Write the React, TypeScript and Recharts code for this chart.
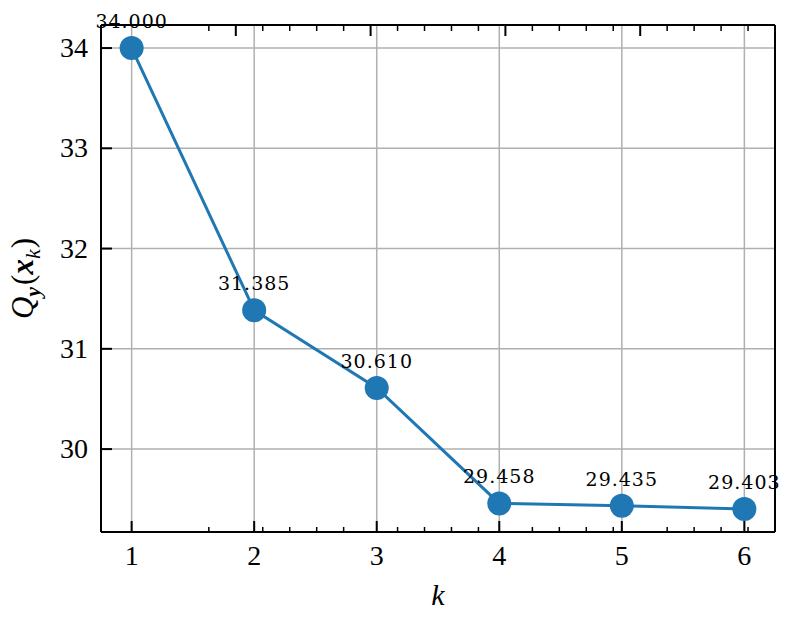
import { CartesianGrid, LabelList, Line, LineChart, XAxis, YAxis } from "recharts";

const kValues = [1, 2, 3, 4, 5, 6];
const qValues = [34.0, 31.385, 30.61, 29.458, 29.435, 29.403];

const xMajorTicks = [1, 2, 3, 4, 5, 6];
const yMajorTicks = [30, 31, 32, 33, 34];
const xDomain: [number, number] = [0.75, 6.25];
const yDomain: [number, number] = [29.173, 34.23];

const data = kValues.map((k, i) => ({ k, q: qValues[i] }));

// minor ticks every 0.2 inside each domain
function minorSteps(lo: number, hi: number): number[] {
  const out: number[] = [];
  for (let i = Math.ceil(lo * 5); i <= Math.floor(hi * 5); i++) {
    if (i % 5 !== 0) out.push(i / 5);
  }
  return out;
}
const xMinorTicks = minorSteps(xDomain[0], xDomain[1]);
const yMinorTicks = minorSteps(yDomain[0], yDomain[1]);
const xAllTicks = [...xMajorTicks, ...xMinorTicks].sort((a, b) => a - b);
const yAllTicks = [...yMajorTicks, ...yMinorTicks].sort((a, b) => a - b);

const SERIF = "Liberation Serif";
const LABEL_SERIF = "DejaVu Serif";
const TICK_FONT = 28;
const MAJOR = 11;
const MINOR = 6;
const BLUE = "#1f77b4";

const isMajor = (v: number) => Math.abs(v - Math.round(v)) < 1e-6;

function tickMark(dir: "up" | "down" | "left" | "right") {
  return (props: any) => {
    const { x, y, payload } = props;
    const len = isMajor(payload.value) ? MAJOR : MINOR;
    const w = isMajor(payload.value) ? 2 : 1.5;
    const dx = dir === "right" ? len : dir === "left" ? -len : 0;
    const dy = dir === "down" ? len : dir === "up" ? -len : 0;
    return <line x1={x} y1={y} x2={x + dx} y2={y + dy} stroke="#000" strokeWidth={w} />;
  };
}

function BottomTick(props: any) {
  const { x, y, payload } = props;
  return (
    <g>
      <line x1={x} y1={y} x2={x} y2={y - MAJOR} stroke="#000" strokeWidth={2} />
      <text x={x} y={y + 33} textAnchor="middle" fill="#000" fontFamily={SERIF} fontSize={TICK_FONT}>
        {payload.value}
      </text>
    </g>
  );
}

function LeftTick(props: any) {
  const { x, y, payload } = props;
  return (
    <g>
      <line x1={x} y1={y} x2={x + MAJOR} y2={y} stroke="#000" strokeWidth={2} />
      <text x={x - 13} y={y + 9} textAnchor="end" fill="#000" fontFamily={SERIF} fontSize={TICK_FONT}>
        {payload.value}
      </text>
    </g>
  );
}

function YLabel(props: any) {
  const vb = props.viewBox;
  const cx = vb.x + vb.width - 76;
  const cy = vb.y + vb.height / 2;
  return (
    <text
      x={cx}
      y={cy}
      transform={`rotate(-90 ${cx} ${cy})`}
      textAnchor="middle"
      fill="#000"
      dy={8}
      fontFamily={SERIF}
      fontSize={31}
    >
      <tspan fontStyle="italic">Q</tspan>
      <tspan fontStyle="italic" fontWeight="bold" fontSize={22} dy={7}>y</tspan>
      <tspan dy={-7} dx={2}>(</tspan>
      <tspan fontStyle="italic" fontWeight="bold">x</tspan>
      <tspan fontStyle="italic" fontSize={22} dy={7}>k</tspan>
      <tspan dy={-7} dx={1}>)</tspan>
    </text>
  );
}

function XLabel(props: any) {
  const vb = props.viewBox;
  return (
    <text
      x={vb.x + vb.width / 2}
      y={vb.y + 73}
      textAnchor="middle"
      fill="#000"
      fontFamily={SERIF}
      fontSize={30}
      fontStyle="italic"
    >
      k
    </text>
  );
}

function PointLabel(props: any) {
  const { x, y, value } = props;
  return (
    <text
      x={x}
      y={y - 20}
      textAnchor="middle"
      fill="#000"
      fontFamily={LABEL_SERIF}
      fontSize={19}
      letterSpacing={1}
    >
      {Number(value).toFixed(3)}
    </text>
  );
}

export default function App() {
  return (
    <div style={{ position: "absolute", left: 0, top: 0, width: 794, height: 624, background: "#fff" }}>
      <LineChart width={794} height={624} data={data} margin={{ top: 24, right: 18, bottom: 90, left: 99 }}>
        <CartesianGrid stroke="#b0b0b0" strokeWidth={1.5} xAxisId={0} yAxisId={0} />
        <XAxis
          xAxisId={0}
          dataKey="k"
          type="number"
          domain={xDomain}
          ticks={xMajorTicks}
          interval={0}
          height={1}
          tickSize={0}
          tickMargin={0}
          tickLine={false}
          axisLine={{ stroke: "#000", strokeWidth: 2 }}
          tick={BottomTick}
          label={{ content: XLabel }}
        />
        <XAxis
          xAxisId="xb"
          type="number"
          domain={xDomain}
          ticks={xMinorTicks}
          interval={0}
          height={1}
          tickSize={0}
          tickMargin={0}
          tickLine={false}
          axisLine={false}
          tick={tickMark("up")}
        />
        <XAxis
          xAxisId="xt"
          orientation="top"
          type="number"
          domain={xDomain}
          ticks={xAllTicks}
          interval={0}
          height={1}
          tickSize={0}
          tickMargin={0}
          tickLine={false}
          axisLine={{ stroke: "#000", strokeWidth: 2 }}
          tick={tickMark("down")}
        />
        <YAxis
          yAxisId={0}
          type="number"
          domain={yDomain}
          ticks={yMajorTicks}
          interval={0}
          width={1}
          tickSize={0}
          tickMargin={0}
          tickLine={false}
          axisLine={{ stroke: "#000", strokeWidth: 2 }}
          tick={LeftTick}
          label={{ content: YLabel }}
        />
        <YAxis
          yAxisId="yl"
          type="number"
          domain={yDomain}
          ticks={yMinorTicks}
          interval={0}
          width={1}
          tickSize={0}
          tickMargin={0}
          tickLine={false}
          axisLine={false}
          tick={tickMark("right")}
        />
        <YAxis
          yAxisId="yr"
          orientation="right"
          type="number"
          domain={yDomain}
          ticks={yAllTicks}
          interval={0}
          width={1}
          tickSize={0}
          tickMargin={0}
          tickLine={false}
          axisLine={{ stroke: "#000", strokeWidth: 2 }}
          tick={tickMark("left")}
        />
        <Line
          xAxisId={0}
          yAxisId={0}
          dataKey="q"
          stroke={BLUE}
          strokeWidth={3}
          dot={{ r: 12, fill: BLUE, stroke: BLUE, strokeWidth: 0 }}
          activeDot={false}
          isAnimationActive={false}
        >
          <LabelList dataKey="q" content={PointLabel} />
        </Line>
      </LineChart>
    </div>
  );
}
